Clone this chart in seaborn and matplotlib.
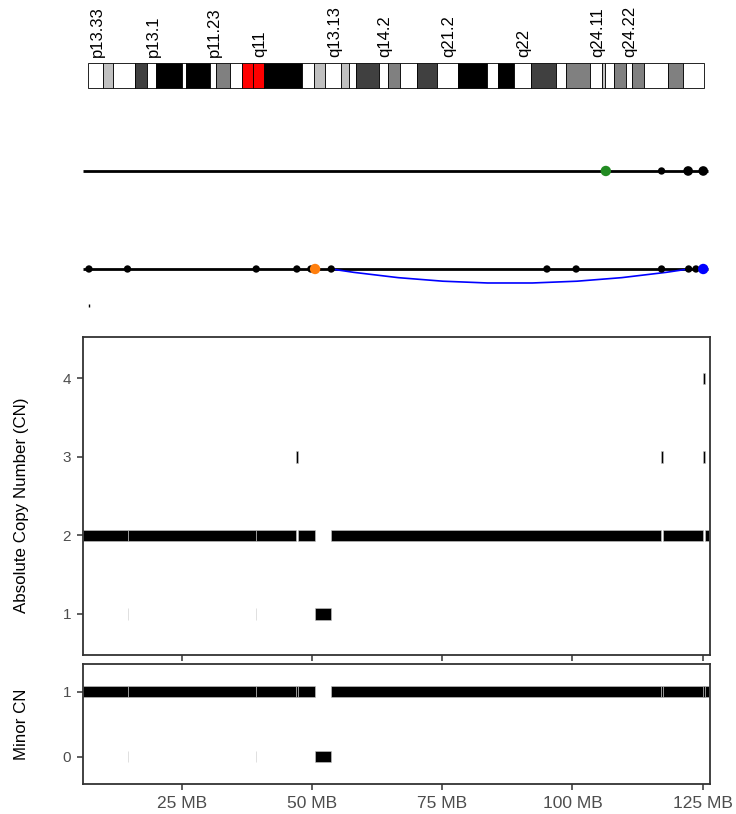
import numpy as np
import pandas as pd
import seaborn as sns
import matplotlib.pyplot as plt
from matplotlib.path import Path
from matplotlib.patches import PathPatch

# chr12 cytobands (MB)
band_start = [0.0, 3.3, 5.4, 10.1, 12.8, 14.8, 20.3, 21.3, 26.5, 27.8, 30.7, 33.3,
              35.8, 38.2, 46.4, 49.1, 51.5, 54.9, 56.6, 58.1, 63.1, 65.1, 67.7, 71.5,
              75.7, 80.3, 86.7, 89.0, 92.6, 96.2, 101.6, 103.8, 109.0, 111.7, 112.3,
              114.3, 116.8, 118.1, 120.7, 125.9, 129.3]
band_end = band_start[1:] + [133.85]
band_name = ["p13.33", "p13.32", "p13.31", "p13.2", "p13.1", "p12.3", "p12.2", "p12.1",
             "p11.23", "p11.22", "p11.21", "p11.1", "q11", "q12", "q13.11", "q13.12",
             "q13.13", "q13.2", "q13.3", "q14.1", "q14.2", "q14.3", "q15", "q21.1",
             "q21.2", "q21.31", "q21.32", "q21.33", "q22", "q23.1", "q23.2", "q23.3",
             "q24.11", "q24.12", "q24.13", "q24.21", "q24.22", "q24.23", "q24.31",
             "q24.32", "q24.33"]
band_stain = ["gneg", "gpos25", "gneg", "gpos75", "gneg", "gpos100", "gneg", "gpos100",
              "gneg", "gpos50", "gneg", "acen", "acen", "gpos100", "gneg", "gpos25",
              "gneg", "gpos25", "gneg", "gpos75", "gneg", "gpos50", "gneg", "gpos75",
              "gneg", "gpos100", "gneg", "gpos100", "gneg", "gpos75", "gneg", "gpos50",
              "gneg", "gpos25", "gneg", "gpos50", "gneg", "gpos50", "gneg", "gpos50", "gneg"]
shown_bands = ["p13.33", "p13.1", "p11.23", "q11", "q13.13", "q14.2", "q21.2", "q22",
               "q24.11", "q24.22"]
stain_col = {"gneg": "white", "gpos25": "#c0c0c0", "gpos50": "#808080",
             "gpos75": "#404040", "gpos100": "black", "acen": "#ff0000"}

# genome graph tracks
chrom_start, chrom_end = 6.0, 126.0
track_y = [2, 1]
top_x = [106.4, 117.1, 122.2, 125.1]
top_kind = ["green", "small", "large", "large"]
bot_x = [7.2, 14.6, 39.3, 47.1, 49.8, 50.6, 53.7, 95.1, 100.7, 117.1, 122.3, 123.7, 125.1]
bot_kind = ["small", "small", "small", "small", "small", "orange", "small", "small",
            "small", "small", "small", "small", "blue"]
arc_from, arc_to, arc_depth = 53.7, 122.3, 0.145
stub_x = 7.3

# copy number segments
seg_start = [6.0, 14.6, 14.62, 39.3, 39.32, 47.0, 47.4, 50.6, 53.7, 117.0, 117.4, 124.98, 124.98, 125.38]
seg_end = [14.6, 14.62, 39.3, 39.32, 47.0, 47.4, 50.6, 53.7, 117.0, 117.4, 124.98, 125.38, 125.38, 126.15]
seg_cn = [2, 1, 2, 1, 2, 3, 2, 1, 2, 3, 2, 3, 4, 2]
seg_minor = [1, 0, 1, 0, 1, 1, 1, 0, 1, 1, 1, 1, 1, 1]

sns.set_style("white")
plt.rcParams["font.family"] = ["Liberation Sans", "DejaVu Sans"]

W, H = 736, 814
fig = plt.figure(figsize=(W / 100, H / 100), dpi=100)


def px_axes(left, top, right, bottom):
    return fig.add_axes([left / W, 1 - bottom / H, (right - left) / W, (bottom - top) / H])


xlim = (6.0, 126.34)

# ideogram
ax_id = px_axes(88.3, 63, 704.3, 88)
bands = pd.DataFrame({"start": band_start, "end": band_end, "name": band_name, "stain": band_stain})
ax_id.bar(bands["start"], 1, width=bands["end"] - bands["start"], align="edge",
          color=[stain_col[s] for s in bands["stain"]], edgecolor="black", linewidth=0.6,
          clip_on=False)
for _, b in bands[bands["name"].isin(shown_bands)].iterrows():
    ax_id.text((b["start"] + b["end"]) / 2 + 0.3, 1.24, b["name"], rotation=90, ha="center",
               va="bottom", fontsize=12, color="black")
ax_id.set_xlim(0, 133.85)
ax_id.set_ylim(0, 1)
ax_id.axis("off")

# tracks
ax_sv = px_axes(82.7, 150, 709.7, 315)
ax_sv.hlines(track_y, chrom_start, chrom_end, color="black", linewidth=2.0, zorder=1)
arc = Path([(arc_from, 1), ((arc_from + arc_to) / 2, 1 - 2 * arc_depth), (arc_to, 1)],
           [Path.MOVETO, Path.CURVE3, Path.CURVE3])
ax_sv.add_patch(PathPatch(arc, facecolor="none", edgecolor="#0000ff", linewidth=1.2, zorder=2))
pts = pd.DataFrame({"x": top_x + bot_x,
                    "y": [2] * len(top_x) + [1] * len(bot_x),
                    "kind": top_kind + bot_kind})
pts["order"] = pts["kind"].map({"small": 0, "large": 0, "green": 1, "orange": 1, "blue": 1})
pts = pts.sort_values("order")
sns.scatterplot(data=pts, x="x", y="y", hue="kind", size="kind", ax=ax_sv, legend=False,
                palette={"small": "black", "large": "black", "green": "#228b22",
                         "orange": "#ff7f0e", "blue": "#0000ff"},
                sizes={"small": 28, "large": 48, "green": 56, "orange": 56, "blue": 56},
                linewidth=0, zorder=3)
ax_sv.vlines(stub_x, 0.612, 0.643, color="black", linewidth=1.0)
ax_sv.set_xlim(*xlim)
ax_sv.set_ylim(0.5306, 2.214)
ax_sv.axis("off")

segs = pd.DataFrame({"start": seg_start, "end": seg_end, "cn": seg_cn, "minor": seg_minor})
ticks_mb = [25, 50, 75, 100, 125]


def style_panel(ax):
    for sp in ax.spines.values():
        sp.set_visible(True)
        sp.set_color("#333333")
        sp.set_linewidth(1.3)
    ax.tick_params(axis="both", which="both", direction="out", length=4.5, width=1.1,
                   color="#333333", labelcolor="#4d4d4d", bottom=True, left=True)
    ax.set_xlim(*xlim)
    ax.set_xticks(ticks_mb)
    ax.set_xlabel("")
    ax.set_ylabel("")


# absolute copy number
ax_cn = px_axes(82.7, 336.7, 709.7, 655)
ax_cn.barh(segs["cn"], segs["end"] - segs["start"], left=segs["start"], height=0.145,
           color="black", edgecolor="#c8c8c8", linewidth=0.4)
style_panel(ax_cn)
ax_cn.set_ylim(0.478, 4.53)
ax_cn.set_yticks([1, 2, 3, 4])
ax_cn.tick_params(axis="y", labelsize=11, pad=4)
ax_cn.set_xticklabels([])

# minor copy number
ax_mn = px_axes(82.7, 664, 709.7, 784.3)
ax_mn.barh(segs["minor"], segs["end"] - segs["start"], left=segs["start"], height=0.17,
           color="black", edgecolor="#c8c8c8", linewidth=0.4)
style_panel(ax_mn)
ax_mn.set_ylim(-0.425, 1.426)
ax_mn.set_yticks([0, 1])
ax_mn.tick_params(axis="y", labelsize=11, pad=4)
ax_mn.set_xticklabels([f"{t} MB" for t in ticks_mb])
ax_mn.tick_params(axis="x", labelsize=12.5, pad=4)

fig.text(22 / W, 1 - 505 / H, "Absolute Copy Number (CN)", rotation=90, ha="center",
         va="center", fontsize=12.2, color="black")
fig.text(22 / W, 1 - 724 / H, "Minor CN", rotation=90, ha="center", va="center",
         fontsize=12.2, color="black")

fig.savefig("out.png", dpi=100)
